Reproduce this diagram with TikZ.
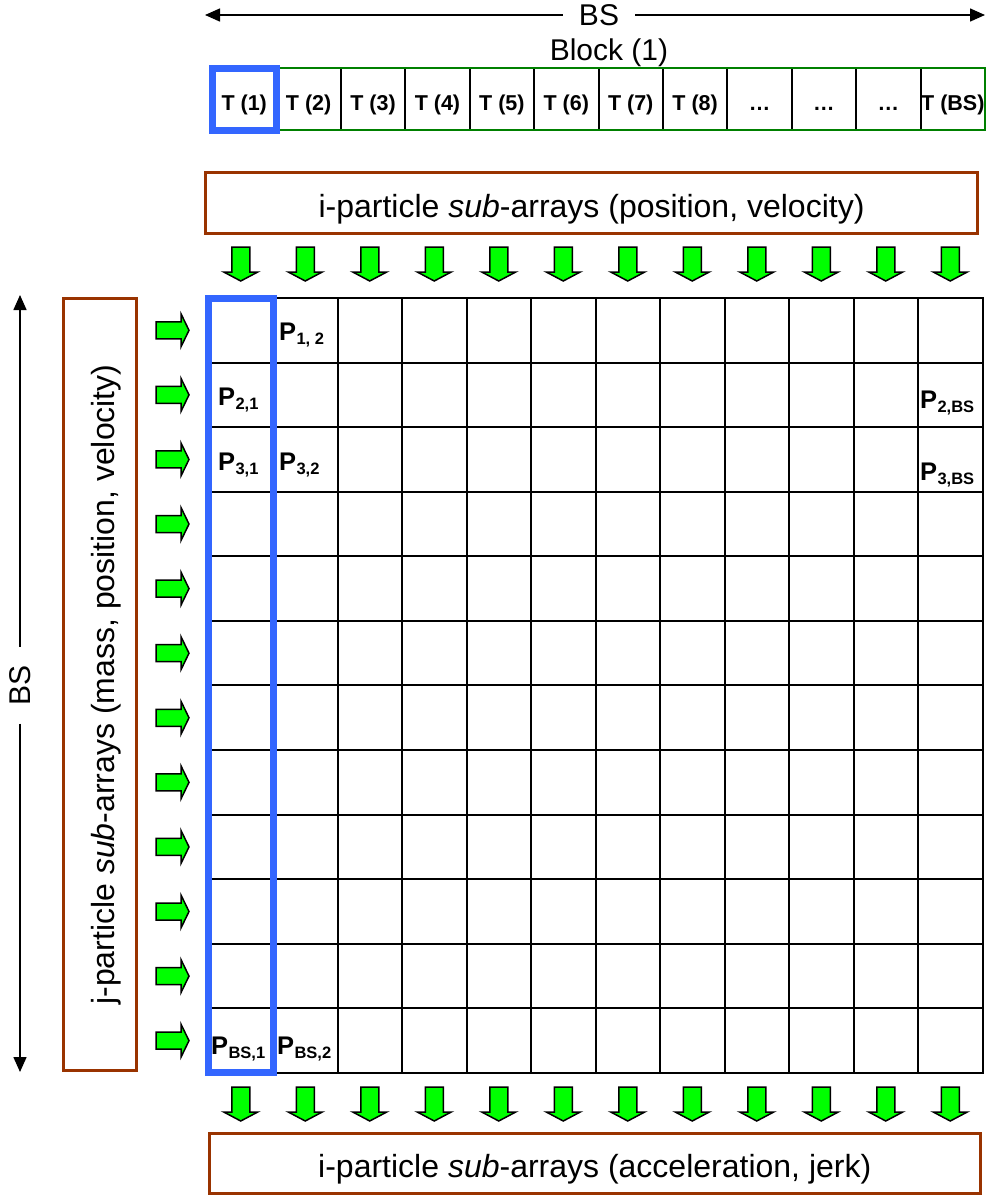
\documentclass[tikz,border=0pt]{standalone}
\usepackage{fontspec}
\setmainfont{Liberation Sans}
\usetikzlibrary{arrows.meta}
\definecolor{brownc}{RGB}{153,51,0}
\definecolor{blockgreen}{RGB}{0,128,0}
\definecolor{selblue}{RGB}{51,102,255}
\definecolor{arrgreen}{RGB}{0,255,0}
\newcommand{\Psub}[1]{P\kern0.5pt\raisebox{-4pt}{\fontsize{16.5}{16.5}\selectfont\bfseries #1}}
\begin{document}
\begin{tikzpicture}[x=1pt,y=-1pt,
  every node/.style={inner sep=0pt, outer sep=0pt},
  brownframe/.style={draw=brownc, line width=3pt},
  bigtext/.style={font=\fontsize{32}{38}\selectfont, text height=28pt, text depth=0pt},
  midtext/.style={font=\fontsize{30}{36}\selectfont},
  tcell/.style={draw=black, line width=2pt, minimum width=64.42pt, minimum height=62pt,
    font=\fontsize{21.5}{21.5}\selectfont\bfseries, text height=22pt, text depth=0pt},
  gcell/.style={draw=black, line width=2pt, minimum width=64.5pt, minimum height=64.58pt},
  plabel/.style={anchor=base west, font=\fontsize{25.5}{25.5}\selectfont\bfseries},
  selbox/.style={draw=selblue, line width=7pt},
  greenframe/.style={draw=blockgreen, line width=2.5pt},
  fatarrow/.style={fill=arrgreen, draw=black, line width=1.5pt, line join=miter},
  dimarrow/.style={line width=1.5pt, -{Triangle[length=15pt,width=13pt]}},
  pics/downarr/.style={code={\draw[fatarrow] (-9,0) -- (9,0) -- (9,25) -- (17,25) -- (0,34) -- (-17,25) -- (-9,25) -- cycle;}},
  pics/rightarr/.style={code={\draw[fatarrow] (0,-8.5) -- (25,-8.5) -- (25,-16.5) -- (33,0) -- (25,16.5) -- (25,8.5) -- (0,8.5) -- cycle;}},
  ]
\useasboundingbox (0,0) rectangle (988,1195);
\fill[white] (0,0) rectangle (988,1195);

% top BS dimension
\node[midtext, inner xsep=16pt] (bstop) at (599,15) {\raisebox{-3pt}{BS}};
\coordinate (tl) at (205,15);
\coordinate (tr) at (985,15);
\draw[dimarrow] (bstop.west) -- (tl);
\draw[dimarrow] (bstop.east) -- (tr);
\node[midtext, anchor=base] (blocklab) at (609,60) {Block (1)};

% block row of threads
\foreach \i/\t in {1/T (1),2/T (2),3/T (3),4/T (4),5/T (5),6/T (6),7/T (7),8/T (8),9/\dots,10/\dots,11/\dots,12/T (BS)}
  \node[tcell] (t\i) at ({212+(\i-0.5)*64.42},99) {\t};
\draw[greenframe] (t1.north west) rectangle (t12.south east);
\draw[selbox] (t1.north west) rectangle (t1.south east);

% top i-particle box
\node[brownframe, bigtext, minimum width=772pt, minimum height=61pt] (ibox) at (591.5,203)
  {i-particle \textit{sub}-arrays (position, velocity)};

% grid
\foreach \r in {1,...,12}
  \foreach \c in {1,...,12}
    \node[gcell] (g-\r-\c) at ({208.5+(\c-0.5)*64.5},{298+(\r-0.5)*64.58}) {};
\draw[selbox] (g-1-1.north west) rectangle (g-12-1.south east);

% arrows
\foreach \c in {1,...,12} {
  \pic at ({208.5+(\c-0.5)*64.5},247) {downarr};
  \pic at ({208.5+(\c-0.5)*64.5},1087) {downarr};
}
\foreach \r in {1,...,12}
  \pic at (156,{298+(\r-0.5)*64.58}) {rightarr};

% labels in grid
\node[plabel] (p12) at (279,340) {\Psub{1, 2}};
\node[plabel] (p21) at (218,405.5) {\Psub{2,1}};
\node[plabel] (p31) at (218,470) {\Psub{3,1}};
\node[plabel] (p32) at (279,470) {\Psub{3,2}};
\node[plabel] (p2bs) at (920,408) {\Psub{2,BS}};
\node[plabel] (p3bs) at (920,480) {\Psub{3,BS}};
\node[plabel] (pbs1) at (211,1054) {\Psub{BS,1}};
\node[plabel] (pbs2) at (277,1054) {\Psub{BS,2}};

% left j-particle box
\node[brownframe, bigtext, rotate=90, minimum width=772pt, minimum height=73pt] (jbox) at (100,684.5)
  {j-particle \textit{sub}-arrays (mass, position, velocity)};

% left BS dimension
\node[midtext, rotate=90, inner xsep=18.5pt] (bsleft) at (20,685) {BS};
\coordinate (lt) at (20,295);
\coordinate (lb) at (20,1072);
\draw[dimarrow] (bsleft.east) -- (lt);
\draw[dimarrow] (bsleft.west) -- (lb);

% bottom box
\node[brownframe, bigtext, minimum width=770.5pt, minimum height=59.5pt] (obox) at (594.75,1163.25)
  {i-particle \textit{sub}-arrays (acceleration, jerk)};
\end{tikzpicture}
\end{document}
